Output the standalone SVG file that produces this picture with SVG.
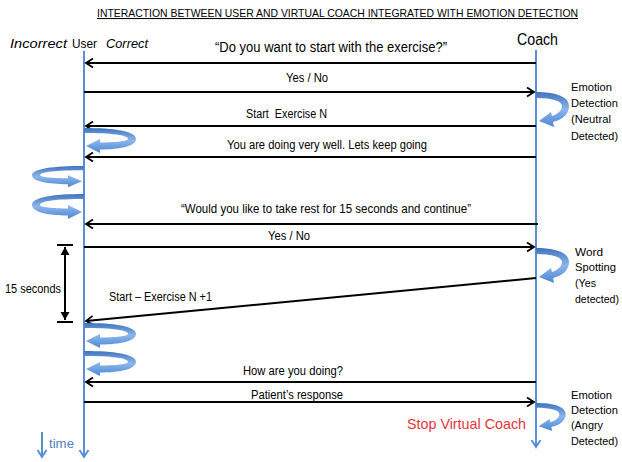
<svg xmlns="http://www.w3.org/2000/svg" width="622" height="462" viewBox="0 0 622 462">
<style>
text{font-family:"Liberation Sans",Arial,sans-serif;fill:#000}
.lbl{font-size:12.5px}
.side{font-size:11.5px}
.hdr{font-size:13.5px}
.life{stroke:#5b8fd4;stroke-width:2;fill:none}
.msg{stroke:#000;stroke-width:2;fill:none}
.curl{fill:url(#cg)}
</style>
<defs>
<marker id="ah" viewBox="-10 -6 12 12" refX="0" refY="0" markerWidth="12" markerHeight="12" markerUnits="userSpaceOnUse" orient="auto">
<path d="M-7,-4.5 L0,0 L-7,4.5" stroke="#000" stroke-width="1.8" fill="none"/>
</marker>
<marker id="bh" viewBox="-10 -6 12 12" refX="0" refY="0" markerWidth="12" markerHeight="12" markerUnits="userSpaceOnUse" orient="auto">
<path d="M-7,-4.5 L0,0 L-7,4.5" stroke="#5b8fd4" stroke-width="2" fill="none"/>
</marker>
<marker id="kh" viewBox="-10 -6 12 12" refX="0" refY="0" markerWidth="12" markerHeight="12" markerUnits="userSpaceOnUse" orient="auto">
<path d="M-8,-4.5 L0,0 L-8,4.5 Z" fill="#000"/>
</marker>
<linearGradient id="cg" x1="0" y1="0" x2="0" y2="1">
<stop offset="0" stop-color="#3e73bf"/>
<stop offset="0.5" stop-color="#8cb6ea"/>
<stop offset="1" stop-color="#4a86d4"/>
</linearGradient>
<path id="ucurl" d="M0,0 C30,0 52,3 52,11 C52,18 36,21.5 16,21.5 L16,25 L2,18 L16,11 L16,14.5 C32,14.5 44,13 44,11 C44,7 28,5 0,5 Z"/>
<path id="ccurl" d="M0,0 C18,0 33,4 33,14 C33,23 25,28 17,30 L18,35 L3,29 L15,20 L16,24 C22,22 26,18 26,14 C26,9 16,6 0,6 Z"/>
</defs>

<text x="97" y="17" font-size="10.5" text-decoration="underline" textLength="481" lengthAdjust="spacingAndGlyphs">INTERACTION BETWEEN USER AND VIRTUAL COACH INTEGRATED WITH EMOTION DETECTION</text>

<g id="user">
<text x="10" y="48" class="hdr" font-style="italic" textLength="57" lengthAdjust="spacingAndGlyphs">Incorrect</text>
<text x="72" y="48" class="hdr" textLength="25" lengthAdjust="spacingAndGlyphs">User</text>
<text x="106" y="48" class="hdr" font-style="italic" textLength="42" lengthAdjust="spacingAndGlyphs">Correct</text>
<path class="life" d="M84,51 L84,457" marker-end="url(#bh)"/>
</g>

<g id="coach">
<text x="517" y="45" font-size="16" textLength="41" lengthAdjust="spacingAndGlyphs">Coach</text>
<path class="life" d="M536,50 L536,447" marker-end="url(#bh)"/>
</g>

<g id="connectors">
<path class="msg" d="M536,63 L86,63" marker-end="url(#ah)"/>
<path class="msg" d="M84,92 L534,92" marker-end="url(#ah)"/>
<path class="msg" d="M536,126 L86,126" marker-end="url(#ah)"/>
<path class="msg" d="M536,157 L86,157" marker-end="url(#ah)"/>
<path class="msg" d="M538,224 L86,224" marker-end="url(#ah)"/>
<path class="msg" d="M84,247 L534,247" marker-end="url(#ah)"/>
<path class="msg" d="M536,278 L86,321" marker-end="url(#ah)"/>
<path class="msg" d="M536,382 L86,382" marker-end="url(#ah)"/>
<path class="msg" d="M84,402 L534,402" marker-end="url(#ah)"/>
</g>

<g id="labels">
<text x="215" y="52" font-size="14" textLength="232" lengthAdjust="spacingAndGlyphs">“Do you want to start with the exercise?”</text>
<text class="lbl" x="286" y="82" textLength="42" lengthAdjust="spacingAndGlyphs">Yes / No</text>
<text class="lbl" x="246" y="118" textLength="81" lengthAdjust="spacingAndGlyphs" xml:space="preserve">Start  Exercise N</text>
<text class="lbl" x="227" y="149" textLength="200" lengthAdjust="spacingAndGlyphs">You are doing very well. Lets keep going</text>
<text class="lbl" x="181" y="213" textLength="290" lengthAdjust="spacingAndGlyphs">“Would you like to take rest for 15 seconds and continue”</text>
<text class="lbl" x="268" y="240" textLength="42" lengthAdjust="spacingAndGlyphs">Yes / No</text>
<text class="lbl" x="109" y="301" textLength="103" lengthAdjust="spacingAndGlyphs">Start – Exercise N +1</text>
<text class="lbl" x="243" y="375" textLength="100" lengthAdjust="spacingAndGlyphs">How are you doing?</text>
<text class="lbl" x="251" y="399" textLength="92" lengthAdjust="spacingAndGlyphs">Patient’s response</text>
</g>

<g id="curls">
<use href="#ccurl" class="curl" transform="translate(536,92)"/>
<use href="#ccurl" class="curl" transform="translate(536,248)"/>
<use href="#ccurl" class="curl" transform="translate(536,403) scale(0.9,0.8)"/>
<use href="#ucurl" class="curl" transform="translate(84,128)"/>
<use href="#ucurl" class="curl" transform="translate(84,166) scale(-1,0.85)"/>
<use href="#ucurl" class="curl" transform="translate(84,194) scale(-1,1)"/>
<use href="#ucurl" class="curl" transform="translate(84,323)"/>
<use href="#ucurl" class="curl" transform="translate(84,351)"/>
</g>

<g id="neutral">
<text class="side" x="571" y="91" textLength="41" lengthAdjust="spacingAndGlyphs">Emotion</text>
<text class="side" x="571" y="107" textLength="47" lengthAdjust="spacingAndGlyphs">Detection</text>
<text class="side" x="571" y="123" textLength="40" lengthAdjust="spacingAndGlyphs">(Neutral</text>
<text class="side" x="571" y="140" textLength="47" lengthAdjust="spacingAndGlyphs">Detected)</text>
</g>
<g id="word">
<text class="side" x="575" y="256" textLength="28" lengthAdjust="spacingAndGlyphs">Word</text>
<text class="side" x="575" y="271" textLength="41" lengthAdjust="spacingAndGlyphs">Spotting</text>
<text class="side" x="575" y="287" textLength="21" lengthAdjust="spacingAndGlyphs">(Yes</text>
<text class="side" x="575" y="303" textLength="44" lengthAdjust="spacingAndGlyphs">detected)</text>
</g>
<g id="angry">
<text class="side" x="571" y="399" textLength="41" lengthAdjust="spacingAndGlyphs">Emotion</text>
<text class="side" x="571" y="414" textLength="47" lengthAdjust="spacingAndGlyphs">Detection</text>
<text class="side" x="571" y="429" textLength="32" lengthAdjust="spacingAndGlyphs">(Angry</text>
<text class="side" x="571" y="445" textLength="47" lengthAdjust="spacingAndGlyphs">Detected)</text>
</g>

<text x="407" y="429" font-size="15" style="fill:#e8323c" textLength="119" lengthAdjust="spacingAndGlyphs">Stop Virtual Coach</text>

<g id="interval">
<line x1="57" y1="245" x2="73" y2="245" stroke="#000" stroke-width="2"/>
<line x1="57" y1="322" x2="73" y2="322" stroke="#000" stroke-width="2"/>
<path d="M65,258 L65,309" stroke="#000" stroke-width="2"/>
<path d="M65,258 L65,247" stroke="#000" stroke-width="2" marker-end="url(#kh)"/>
<path d="M65,309 L65,320" stroke="#000" stroke-width="2" marker-end="url(#kh)"/>
<text class="lbl" x="5" y="293" textLength="56" lengthAdjust="spacingAndGlyphs">15 seconds</text>
</g>

<g id="time">
<path class="life" d="M42,432 L42,457" marker-end="url(#bh)"/>
<text x="49" y="448" font-size="12.5" style="fill:#4f81bd" textLength="25" lengthAdjust="spacingAndGlyphs">time</text>
</g>
</svg>
